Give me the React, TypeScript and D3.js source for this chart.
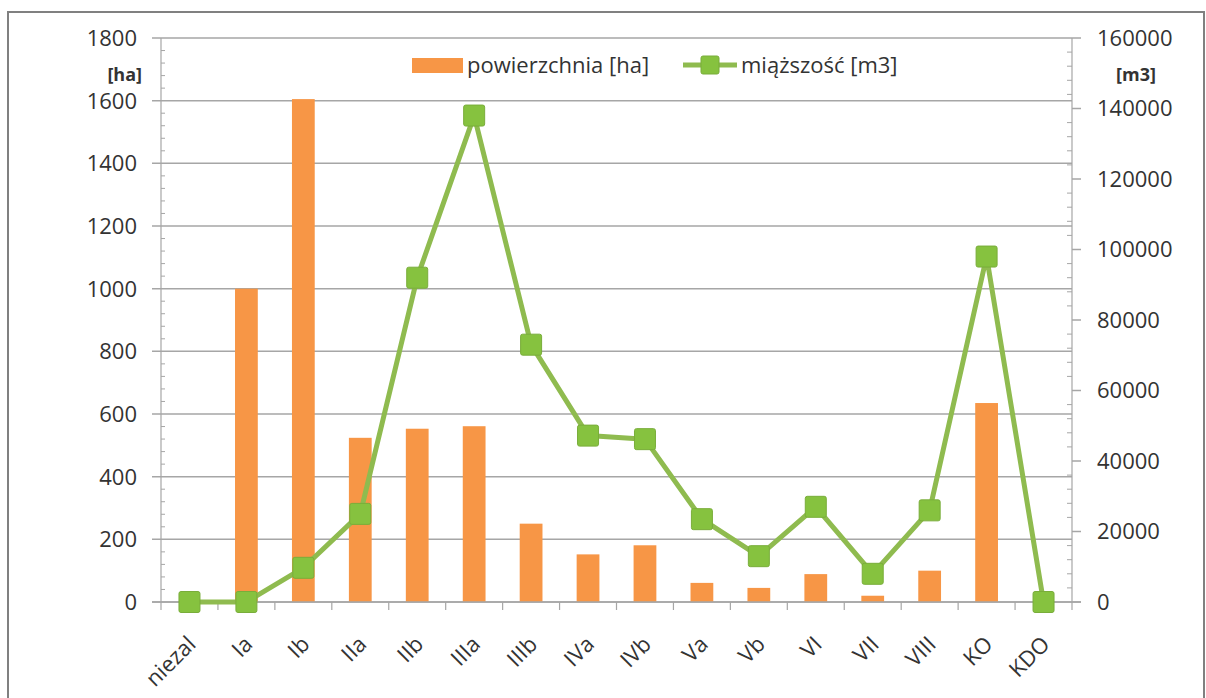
import React from "react";
import * as d3 from "d3";

const categories = ["niezal", "Ia", "Ib", "IIa", "IIb", "IIIa", "IIIb", "IVa", "IVb", "Va", "Vb", "VI", "VII", "VIII", "KO", "KDO"];
const areaHa = [0, 1000, 1605, 524, 553, 561, 250, 152, 181, 61, 45, 89, 20, 100, 635, 0];
const volumeM3 = [0, 0, 9700, 25000, 92000, 138000, 73000, 47200, 46200, 23500, 13000, 27000, 8000, 26000, 98000, 0];
const leftTicks = [0, 200, 400, 600, 800, 1000, 1200, 1400, 1600, 1800];
const rightTicks = [0, 20000, 40000, 60000, 80000, 100000, 120000, 140000, 160000];
const legendLabels = ["powierzchnia [ha]", "miąższość [m3]"];
const leftTitle = "[ha]";
const rightTitle = "[m3]";

const W = 1206;
const H = 698;
const FONT = "'Open Sans', 'Noto Sans', sans-serif";
const TEXT = "#333333";
const GRID = "#a6a6a6";
const BAR = "#f79646";
const LINE = "#8fbb4f";
const MARK = "#86c23f";
const MARK_STROKE = "#79ad3a";

export default function App() {
  const left = 161;
  const right = 1072;
  const top = 38;
  const bottom = 602;

  const x = d3.scaleBand<string>().domain(categories).range([left, right]).paddingInner(0).paddingOuter(0);
  const yL = d3.scaleLinear().domain([0, 1800]).range([bottom, top]);
  const yR = d3.scaleLinear().domain([0, 160000]).range([bottom, top]);
  const bw = x.bandwidth() * 0.4;

  const leftMinor = d3.range(0, 1800 + 1, 40).filter((v) => v % 200 !== 0);
  const rightMinor = d3.range(0, 160000 + 1, 4000).filter((v) => v % 20000 !== 0);

  const lineGen = d3
    .line<number>()
    .x((_, i) => (x(categories[i]) as number) + x.bandwidth() / 2)
    .y((d) => yR(d));

  const boundaries = categories.map((c) => x(c) as number).concat([right]);
  const ms = 21;

  return (
    <svg width={W} height={H} style={{ position: "absolute", left: 0, top: 0, background: "#fff" }} fontFamily={FONT}>
      <rect x={8} y={12} width={1196} height={700} fill="#fff" stroke="#808080" strokeWidth={2} />

      {/* gridlines */}
      {leftTicks.map((t) => (
        <line key={"g" + t} x1={left - 9} x2={right} y1={yL(t)} y2={yL(t)} stroke={GRID} strokeWidth={1.5} />
      ))}

      {/* left axis */}
      <line x1={left} x2={left} y1={top} y2={bottom} stroke={GRID} strokeWidth={1.2} />
      {leftMinor.map((t) => (
        <line key={"lm" + t} x1={left} x2={left + 4} y1={yL(t)} y2={yL(t)} stroke={GRID} strokeWidth={1} />
      ))}
      {leftTicks.map((t) => (
        <text key={"lt" + t} x={137} y={yL(t)} dy="0.36em" textAnchor="end" fontSize={22} fill={TEXT}>
          {t}
        </text>
      ))}
      <text x={142} y={75} dy="0.36em" textAnchor="end" fontSize={18} fontWeight="bold" fill={TEXT}>
        {leftTitle}
      </text>

      {/* right axis */}
      <line x1={right} x2={right} y1={top} y2={bottom} stroke={GRID} strokeWidth={1.2} />
      {rightMinor.map((t) => (
        <line key={"rm" + t} x1={right - 5} x2={right} y1={yR(t)} y2={yR(t)} stroke={GRID} strokeWidth={1} />
      ))}
      {rightTicks.map((t) => (
        <line key={"rt" + t} x1={right} x2={right + 9} y1={yR(t)} y2={yR(t)} stroke={GRID} strokeWidth={1.5} />
      ))}
      {rightTicks.map((t) => (
        <text key={"rl" + t} x={1097} y={yR(t)} dy="0.36em" textAnchor="start" fontSize={22} fill={TEXT}>
          {t}
        </text>
      ))}
      <text x={1136} y={75} dy="0.36em" textAnchor="middle" fontSize={18} fontWeight="bold" fill={TEXT}>
        {rightTitle}
      </text>

      {/* bars */}
      {areaHa.map((v, i) =>
        v > 0 ? (
          <rect
            key={"b" + i}
            x={(x(categories[i]) as number) + (x.bandwidth() - bw) / 2}
            y={yL(v)}
            width={bw}
            height={yL(0) - yL(v)}
            fill={BAR}
          />
        ) : null
      )}

      {/* x axis */}
      <line x1={left - 9} x2={right + 9} y1={bottom} y2={bottom} stroke={GRID} strokeWidth={1.5} />
      {boundaries.map((b, i) => (
        <line key={"xt" + i} x1={b} x2={b} y1={bottom} y2={bottom + 8} stroke={GRID} strokeWidth={1.2} />
      ))}
      {categories.map((c) => {
        const cx = (x(c) as number) + x.bandwidth() / 2;
        return (
          <text
            key={"xl" + c}
            transform={`translate(${cx + 2},${640}) rotate(-45)`}
            dy="0.36em"
            textAnchor="end"
            fontSize={22}
            fill={TEXT}
          >
            {c}
          </text>
        );
      })}

      {/* line series */}
      <path d={lineGen(volumeM3) || ""} fill="none" stroke={LINE} strokeWidth={5} strokeLinejoin="round" />
      {volumeM3.map((v, i) => (
        <rect
          key={"m" + i}
          x={(x(categories[i]) as number) + x.bandwidth() / 2 - ms / 2}
          y={yR(v) - ms / 2}
          width={ms}
          height={ms}
          rx={2}
          fill={MARK}
          stroke={MARK_STROKE}
          strokeWidth={1}
        />
      ))}

      {/* legend */}
      <rect x={412} y={58} width={51} height={15} fill={BAR} />
      <text x={467} y={65} dy="0.36em" fontSize={22} fill={TEXT}>
        {legendLabels[0]}
      </text>
      <line x1={683} x2={737} y1={65} y2={65} stroke={LINE} strokeWidth={5} />
      <rect x={701} y={56} width={18} height={18} rx={2} fill={MARK} stroke={MARK_STROKE} strokeWidth={1} />
      <text x={741} y={65} dy="0.36em" fontSize={22} fill={TEXT}>
        {legendLabels[1]}
      </text>
    </svg>
  );
}
